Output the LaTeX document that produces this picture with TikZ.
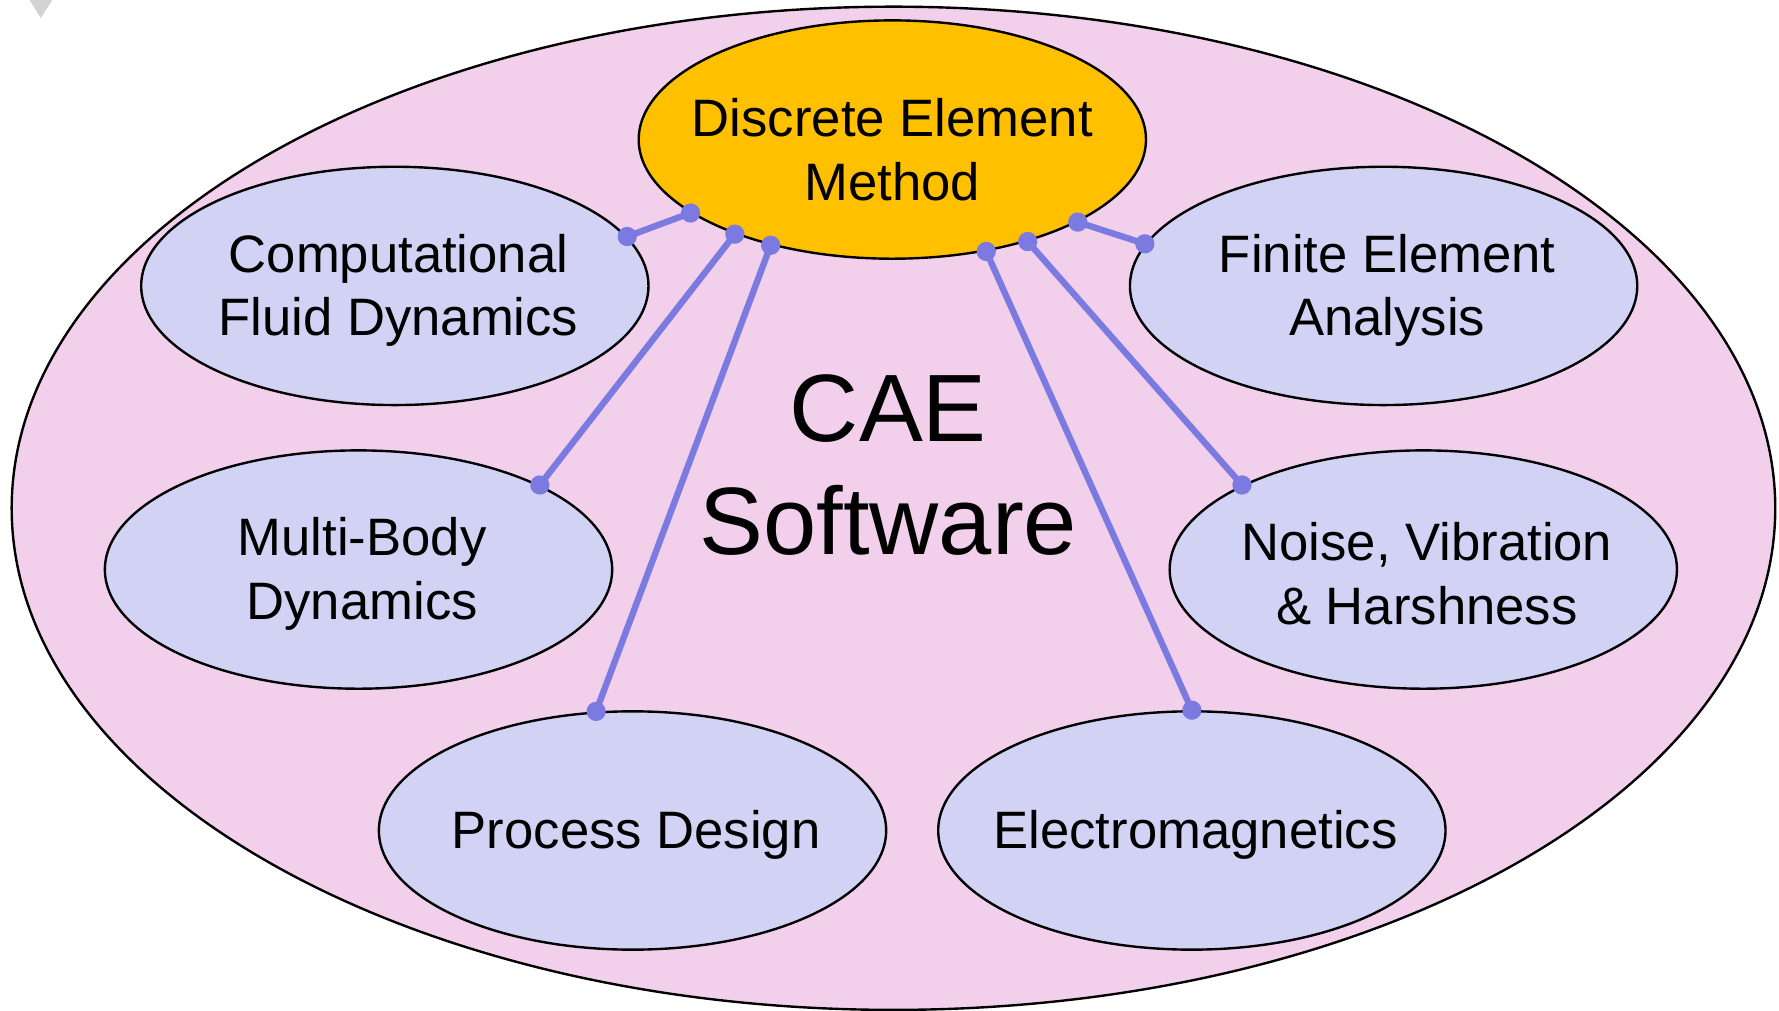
\documentclass[tikz,border=0pt]{standalone}
\usepackage{fontspec}
\setmainfont{Liberation Sans}
\usetikzlibrary{shapes.geometric,arrows.meta}

\definecolor{fieldpink}{RGB}{242,208,236}
\definecolor{areablue}{RGB}{210,210,244}
\definecolor{coregold}{RGB}{255,192,0}
\definecolor{linkblue}{RGB}{122,122,224}

\begin{document}
\begin{tikzpicture}[x=0.025cm, y=-0.025cm, areatext/.style={align=center, font=\fontsize{33}{40}\selectfont}, area/.style={ellipse, draw, line width=1.5pt, fill=areablue, minimum width=11.175cm, minimum height=5.25cm, inner sep=0pt, label={[areatext, xshift=0.08cm, yshift=-0.1cm]center:#1}}, core/.style={ellipse, draw, line width=1.5pt, fill=coregold, minimum width=11.175cm, minimum height=5.25cm, inner sep=0pt, label={[areatext, yshift=-0.22cm]center:#1}}, field/.style={ellipse, draw, line width=1.5pt, fill=fieldpink, minimum width=38.85cm, minimum height=22.1cm, inner sep=0pt}, link/.style={draw=linkblue, line width=4pt, {Circle[length=12pt]}-{Circle[length=12pt]}, shorten <=-6pt, shorten >=-6pt}]
      \useasboundingbox (0,0) rectangle (1568,891);

      \fill[gray!35] (26,0) -- (46,0) -- (36,16) -- cycle;

      \node [field] (cae) at (787.5,448) {};

      \node [align=center, font=\fontsize{60}{71}\selectfont] (title) at (783,410) {CAE\\Software};

      \node [core={Discrete Element\\Method}] (dem) at (786.5,123) {};

      \node [area={Computational\\Fluid Dynamics}] (cfd) at (348,252) {};

      \node [area={Finite Element\\Analysis}] (fea) at (1219.5,252) {};

      \node [area={Multi-Body\\Dynamics}] (mbd) at (316,502) {};

      \node [area={Noise, Vibration\\\& Harshness}] (nvh) at (1254.5,502) {};

      \node [area={Process Design}] (proc) at (557.5,732) {};

      \node [area={Electromagnetics}] (emag) at (1050.5,732) {};

      \draw[link] (cfd.12) -- (dem.200);

      \draw[link] (mbd.25) -- (dem.211);

      \draw[link] (proc.107) -- (dem.221);

      \draw[link] (emag.90) -- (dem.310);

      \draw[link] (nvh.155) -- (dem.323);

      \draw[link] (fea.170) -- (dem.336);
    \end{tikzpicture}
\end{document}
